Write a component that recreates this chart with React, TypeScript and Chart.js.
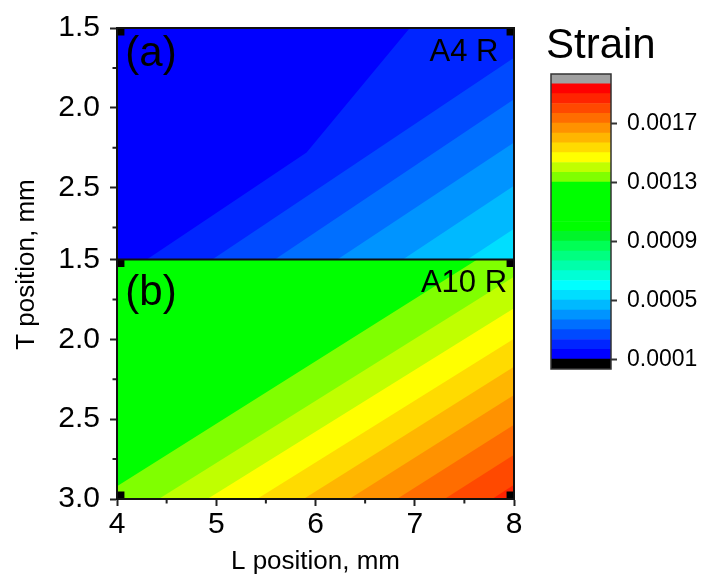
import React, { useEffect, useRef } from 'react';
import { Chart, registerables } from 'chart.js';

Chart.register(...registerables);

// ---------- data ----------
type Pt = [number, number];

const L_TICKS = [4, 5, 6, 7, 8];
const L_MINOR = [4.5, 5.5, 6.5, 7.5];
const T_TICKS_TOP = [1.5, 2.0, 2.5];
const T_TICKS_BOT = [1.5, 2.0, 2.5, 3.0];
const T_MINOR = [1.75, 2.25, 2.75];
const L_RANGE = [4, 8];
const T_RANGE_TOP = [1.5, 2.95];
const T_RANGE_BOT = [1.5, 3.0];

// contour levels of strain (lower bound of every band, last = top of last band)
const LEVELS = [
  0.0001, 0.00016667, 0.00023333, 0.0003, 0.00036667, 0.00043333, 0.0005,
  0.00056667, 0.00063333, 0.0007, 0.00076667, 0.00083333, 0.0009, 0.00096667,
  0.00103333, 0.0011, 0.00116667, 0.00123333, 0.0013, 0.00136667, 0.00143333,
  0.0015, 0.00156667, 0.00163333, 0.0017, 0.00176667, 0.00183333, 0.0019,
  0.00196667,
];
const BELOW_MIN = 0.00003333;
const ABOVE_MAX = 0.00203333;
const STRAIN_TICKS = [0.0001, 0.0005, 0.0009, 0.0013, 0.0017];

const LEVEL_COLORS = [
  '#0000ff', '#0025ff', '#004aff', '#006fff', '#0094ff', '#00b9ff', '#00deff',
  '#00ffff', '#00ffd5', '#00ffaa', '#00ff80', '#00ff55', '#00f52a', '#00ff00',
  '#00ff00', '#00ff00', '#00ff00', '#00ff00', '#80ff00', '#c0ff00', '#ffff00',
  '#ffdb00', '#ffb600', '#ff9200', '#ff6d00', '#ff4900', '#ff2400', '#ff0000',
];
const BELOW_COLOR = '#000000';
const ABOVE_COLOR = '#a0a0a0';

// contour regions (strain >= level) as polygons in (L, T)
const A4_BANDS: { level: number; polygon: Pt[] }[] = [
  { level: 0, polygon: [[4, 1.5], [8, 1.5], [8, 2.95], [4, 2.95]] },
  { level: 1, polygon: [[6.95, 1.5], [5.91, 2.28], [4.3, 2.95], [8, 2.95], [8, 1.5]] },
  { level: 2, polygon: [[8, 1.686], [4.96, 2.95], [8, 2.95]] },
  { level: 3, polygon: [[8, 1.946], [5.59, 2.95], [8, 2.95]] },
  { level: 4, polygon: [[8, 2.217], [6.22, 2.95], [8, 2.95]] },
  { level: 5, polygon: [[8, 2.488], [6.88, 2.95], [8, 2.95]] },
  { level: 6, polygon: [[8, 2.758], [7.53, 2.95], [8, 2.95]] },
];

const A10_BANDS: { level: number; polygon: Pt[] }[] = [
  { level: 17, polygon: [[4, 1.5], [8, 1.5], [8, 3.0], [4, 3.0]] },
  { level: 18, polygon: [[7.63, 1.5], [4, 2.92], [4, 3.0], [8, 3.0], [8, 1.5]] },
  { level: 19, polygon: [[8, 1.608], [4.42, 3.0], [8, 3.0]] },
  { level: 20, polygon: [[8, 1.806], [4.91, 3.0], [8, 3.0]] },
  { level: 21, polygon: [[8, 1.996], [5.41, 3.0], [8, 3.0]] },
  { level: 22, polygon: [[8, 2.171], [5.88, 3.0], [8, 3.0]] },
  { level: 23, polygon: [[8, 2.348], [6.34, 3.0], [8, 3.0]] },
  { level: 24, polygon: [[8, 2.535], [6.82, 3.0], [8, 3.0]] },
  { level: 25, polygon: [[8, 2.723], [7.3, 3.0], [8, 3.0]] },
  { level: 26, polygon: [[8, 2.91], [7.78, 3.0], [8, 3.0]] },
];

const A4_POINTS: Pt[] = [[4, 1.5], [8, 1.5]];
const A10_POINTS: Pt[] = [[4, 1.5], [8, 1.5], [4, 3.0], [8, 3.0]];

// ---------- styles ----------
const FONT = 'Liberation Sans, Arial, Helvetica, sans-serif';
const INK = '#000000';

const PANEL_LABELS = [
  { text: '(a)', axis: 'yTop', L: 4.084, T: 1.7375, align: 'left', size: 42 },
  { text: 'A4 R', axis: 'yTop', L: 7.843, T: 1.706, align: 'right', size: 31 },
  { text: '(b)', axis: 'yBot', L: 4.084, T: 1.7875, align: 'left', size: 42 },
  { text: 'A10 R', axis: 'yBot', L: 7.93, T: 1.704, align: 'right', size: 31 },
];

const tickFromList = (list: number[]) => (scale: any) => {
  scale.ticks = list.map((v) => ({ value: v }));
};

const mainDecor = {
  id: 'mainDecor',
  afterDraw(chart: any) {
    const { ctx, chartArea: a, scales } = chart;
    ctx.save();
    // minor ticks
    ctx.strokeStyle = '#222';
    ctx.lineWidth = 2;
    ctx.beginPath();
    for (const v of L_MINOR) {
      const x = scales.x.getPixelForValue(v);
      ctx.moveTo(x, a.bottom);
      ctx.lineTo(x, a.bottom + 4.5);
    }
    for (const id of ['yTop', 'yBot']) {
      const s = scales[id];
      for (const v of T_MINOR) {
        if (v < s.min || v > s.max) continue;
        const y = s.getPixelForValue(v);
        ctx.moveTo(a.left - 4.5, y);
        ctx.lineTo(a.left, y);
      }
    }
    ctx.stroke();
    // frame and divider
    ctx.strokeStyle = '#111';
    ctx.lineWidth = 2;
    ctx.strokeRect(a.left, a.top, a.right - a.left, a.bottom - a.top);
    ctx.beginPath();
    ctx.moveTo(a.left, scales.yTop.bottom);
    ctx.lineTo(a.right, scales.yTop.bottom);
    ctx.stroke();
    // panel labels
    ctx.fillStyle = INK;
    ctx.textBaseline = 'alphabetic';
    for (const lb of PANEL_LABELS) {
      ctx.font = `${lb.size}px ${FONT}`;
      ctx.textAlign = lb.align;
      ctx.fillText(lb.text, scales.x.getPixelForValue(lb.L), scales[lb.axis].getPixelForValue(lb.T));
    }
    // y axis title
    ctx.font = `26px ${FONT}`;
    ctx.textAlign = 'center';
    ctx.translate(34, (a.top + a.bottom) / 2 + 1);
    ctx.rotate(-Math.PI / 2);
    ctx.fillText('T position, mm', 0, 0);
    ctx.restore();
  },
};

const barDecor = {
  id: 'barDecor',
  afterDraw(chart: any) {
    const { ctx, chartArea: a } = chart;
    ctx.save();
    ctx.strokeStyle = '#333';
    ctx.lineWidth = 1.5;
    ctx.strokeRect(a.left, a.top, a.right - a.left, a.bottom - a.top);
    ctx.fillStyle = INK;
    ctx.font = `42px ${FONT}`;
    ctx.textAlign = 'left';
    ctx.textBaseline = 'alphabetic';
    ctx.fillText('Strain', a.left - 5, 58);
    ctx.restore();
  },
};

function polyDatasets(bands: { level: number; polygon: Pt[] }[], axis: string) {
  return bands.map((b) => ({
    type: 'scatter' as const,
    data: b.polygon.map(([x, y]) => ({ x, y })),
    yAxisID: axis,
    showLine: true,
    fill: 'shape',
    backgroundColor: LEVEL_COLORS[b.level],
    borderColor: LEVEL_COLORS[b.level],
    borderWidth: 0,
    pointRadius: 0,
    pointHoverRadius: 0,
    clip: 0,
    order: 100 - b.level,
  }));
}

function markerDataset(points: Pt[], axis: string) {
  return {
    type: 'scatter' as const,
    data: points.map(([x, y]) => ({ x, y })),
    yAxisID: axis,
    showLine: false,
    pointStyle: 'rect',
    pointRadius: 10.5,
    pointBackgroundColor: '#000',
    pointBorderWidth: 0,
    clip: 0,
    order: -10,
  };
}

function yAxis(range: number[], ticks: number[], weight: number, stackWeight: number) {
  return {
    type: 'linear',
    position: 'left',
    stack: 'T',
    stackWeight,
    weight,
    reverse: true,
    min: range[0],
    max: range[1],
    afterBuildTicks: tickFromList(ticks),
    afterFit: (s: any) => {
      s.width = 117;
    },
    ticks: {
      padding: 10,
      color: INK,
      font: { size: 30, family: FONT },
      callback: (v: number) => v.toFixed(1),
    },
    grid: { drawOnChartArea: false, tickLength: 7, tickWidth: 2, tickColor: '#222' },
    border: { display: true, width: 2, color: '#111' },
  };
}

export default function App() {
  const mainRef = useRef<HTMLCanvasElement>(null);
  const barRef = useRef<HTMLCanvasElement>(null);

  useEffect(() => {
    document.body.style.margin = '0';
    Chart.defaults.font.family = FONT;

    const main = new Chart(mainRef.current as HTMLCanvasElement, {
      type: 'scatter',
      data: {
        datasets: [
          ...polyDatasets(A4_BANDS, 'yTop'),
          ...polyDatasets(A10_BANDS, 'yBot'),
          markerDataset(A4_POINTS, 'yTop'),
          markerDataset(A10_POINTS, 'yBot'),
        ] as any,
      },
      options: {
        animation: false,
        responsive: false,
        events: [],
        layout: { padding: { top: 27, right: 26, bottom: 0, left: 0 } },
        plugins: {
          legend: { display: false },
          tooltip: { enabled: false },
          title: { display: false },
        },
        scales: {
          x: {
            type: 'linear',
            position: 'bottom',
            min: L_RANGE[0],
            max: L_RANGE[1],
            afterBuildTicks: tickFromList(L_TICKS),
            afterFit: (s: any) => {
              s.height = 78;
            },
            ticks: {
              padding: 1,
              color: INK,
              maxRotation: 0,
              autoSkip: false,
              font: { size: 30, family: FONT },
              callback: (v: number) => String(v),
            },
            grid: { drawOnChartArea: false, tickLength: 7, tickWidth: 2, tickColor: '#222' },
            border: { display: true, width: 2, color: '#111' },
            title: {
              display: true,
              text: 'L position, mm',
              color: INK,
              font: { size: 26, family: FONT },
              padding: { top: 0, bottom: 0 },
            },
          },
          yTop: yAxis(T_RANGE_TOP, T_TICKS_TOP, 2, T_RANGE_TOP[1] - T_RANGE_TOP[0]),
          yBot: yAxis(T_RANGE_BOT, T_TICKS_BOT, 1, T_RANGE_BOT[1] - T_RANGE_BOT[0]),
        } as any,
      },
      plugins: [mainDecor],
    });

    const barSets: any[] = [];
    barSets.push({ data: [[BELOW_MIN, LEVELS[0]]], backgroundColor: BELOW_COLOR });
    for (let k = 0; k < LEVEL_COLORS.length; k++) {
      barSets.push({ data: [[LEVELS[k], LEVELS[k + 1]]], backgroundColor: LEVEL_COLORS[k] });
    }
    barSets.push({ data: [[LEVELS[LEVELS.length - 1], ABOVE_MAX]], backgroundColor: ABOVE_COLOR });

    const bar = new Chart(barRef.current as HTMLCanvasElement, {
      type: 'bar',
      data: {
        labels: [''],
        datasets: barSets.map((d) => ({
          ...d,
          grouped: false,
          barPercentage: 1,
          categoryPercentage: 1,
          borderWidth: 0,
        })),
      },
      options: {
        animation: false,
        responsive: false,
        events: [],
        layout: { padding: { top: 74, right: 0, bottom: 208, left: 11 } },
        plugins: {
          legend: { display: false },
          tooltip: { enabled: false },
          title: { display: false },
        },
        scales: {
          x: { type: 'category', display: false },
          y: {
            type: 'linear',
            position: 'right',
            min: BELOW_MIN,
            max: ABOVE_MAX,
            afterBuildTicks: tickFromList(STRAIN_TICKS),
            afterFit: (s: any) => {
              s.width = 94;
            },
            ticks: {
              padding: 10,
              color: INK,
              font: { size: 23, family: FONT },
              callback: (v: number) => v.toFixed(4),
            },
            grid: { drawOnChartArea: false, tickLength: 6, tickWidth: 2, tickColor: '#333' },
            border: { display: false },
          },
        } as any,
      },
      plugins: [barDecor],
    });

    return () => {
      main.destroy();
      bar.destroy();
    };
  }, []);

  return (
    <div style={{ position: 'relative', width: 705, height: 577, background: '#fff' }}>
      <canvas
        ref={mainRef}
        width={540}
        height={577}
        style={{ position: 'absolute', left: 0, top: 0, width: 540, height: 577 }}
      />
      <canvas
        ref={barRef}
        width={165}
        height={577}
        style={{ position: 'absolute', left: 540, top: 0, width: 165, height: 577 }}
      />
    </div>
  );
}
